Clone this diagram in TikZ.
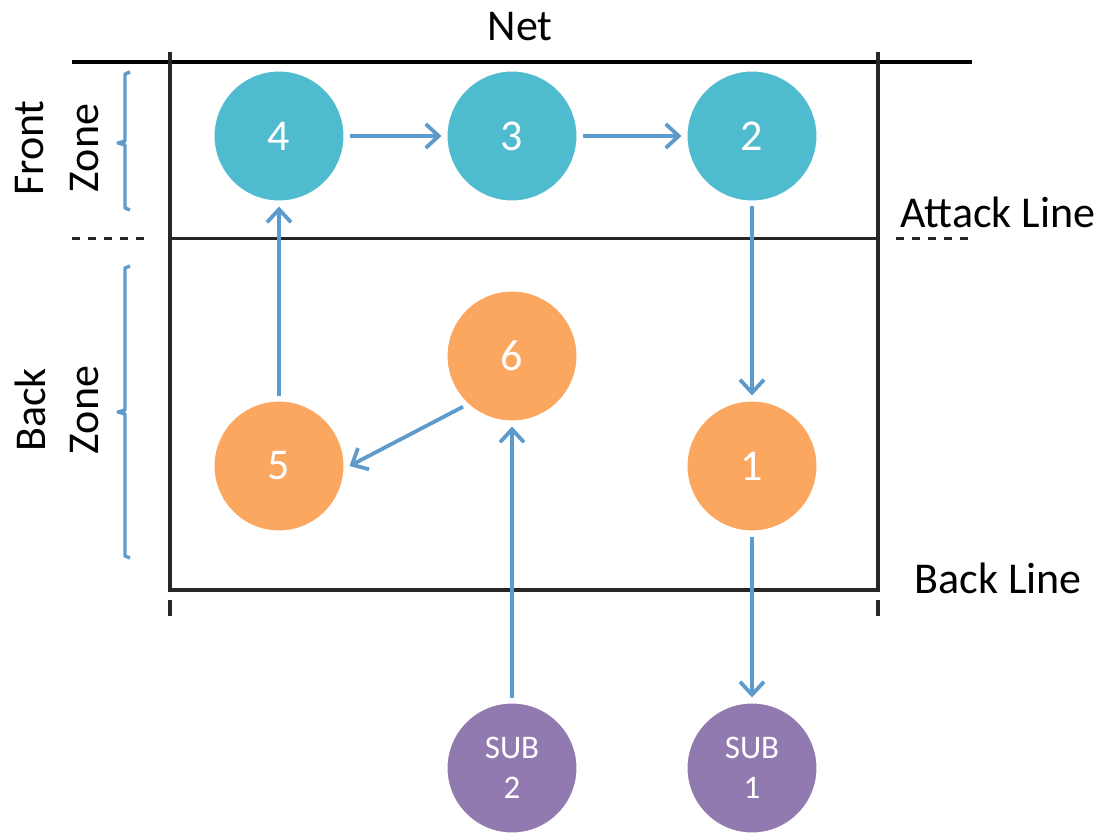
\documentclass[tikz,border=0pt]{standalone}
\usepackage{fontspec}
\setmainfont{Carlito}
\usepackage{tikz}
\usetikzlibrary{arrows.meta,shadows}
\definecolor{frontcol}{HTML}{4EBBCF}
\definecolor{backcol}{HTML}{FBA75F}
\definecolor{subcol}{HTML}{917AB0}
\definecolor{movecol}{HTML}{5D9BCD}
\tikzstyle{court}=[
  x=0.5pt,y=-0.5pt,font=\fontsize{22}{26}\selectfont,>={Straight Barb[length=6.5pt,width=12pt]}
]
\tikzstyle{player}=[
  draw=white,circle,line width=3pt,minimum size=67.5pt,inner sep=0pt,text=white,
  circular drop shadow={shadow xshift=0pt,shadow yshift=-0.6pt,shadow scale=1.02,opacity=0.25}
]
\tikzstyle{front}=[player,fill=frontcol]
\tikzstyle{back}=[player,fill=backcol]
\tikzstyle{sub}=[player,fill=subcol,align=center,font=\fontsize{16.5}{20}\selectfont]
\tikzstyle{move}=[->,movecol,line width=1.9pt]
\tikzstyle{courtline}=[line width=1.7pt,black!85]
\tikzstyle{brace}=[movecol,line width=1.7pt,line join=round]

\begin{document}
\begin{tikzpicture}[court]
    \useasboundingbox (0,0) rectangle (1104,840);
    % court lines
    \draw [line width=2.4pt] (72,62) -- (972,62);
    \draw [courtline] (170,52) -- (170,590) -- (878,590) -- (878,52);
    \draw [courtline] (170,600) -- (170,616);
    \draw [courtline] (878,600) -- (878,616);
    \draw [courtline,line width=1.5pt] (170,238) -- (878,238);
    \draw [courtline,line width=1.5pt,dash pattern=on 4pt off 4pt] (72,238) -- (150,238);
    \draw [courtline,line width=1.5pt,dash pattern=on 4pt off 4pt] (896,238) -- (972,238);
    \node (net) at (520,27) {Net};
    \node (attack) at (998,212) {Attack Line};
    \node (backline) at (998,578) {Back Line};
    % zones
    \node [rotate=90] (frontlbl) at (30,148) {Front};
    \node [rotate=90] (frontzone) at (85,148) {Zone};
    \node [rotate=90] (backlbl) at (30,410) {Back};
    \node [rotate=90] (backzone) at (85,410) {Zone};
    \draw [brace] (130,72) -- (125,74) -- (125,141) -- (118,143) -- (125,145) -- (125,208) -- (130,210);
    \draw [brace] (130,266) -- (125,268) -- (125,410) -- (118,412) -- (125,414) -- (125,556) -- (130,558);
    % players
    \node (p4) at (279,136) [front] {4};
    \node (p3) at (512,136) [front] {3};
    \node (p2) at (752,136) [front] {2};
    \node (p6) at (512,356) [back] {6};
    \node (p5) at (279,466) [back] {5};
    \node (p1) at (752,466) [back] {1};
    \node (s2) at (512,768) [sub] {SUB\\2};
    \node (s1) at (752,768) [sub] {SUB\\1};
    % rotation
    \draw [move] (p4) -- (p3);
    \draw [move] (p3) -- (p2);
    \draw [move] (p2) -- (p1);
    \draw [move] (p1) -- (s1);
    \draw [move] (s2) -- (p6);
    \draw [move] (p6.226) -- (p5.east);
    \draw [move] (p5) -- (p4);
\end{tikzpicture}
\end{document}
